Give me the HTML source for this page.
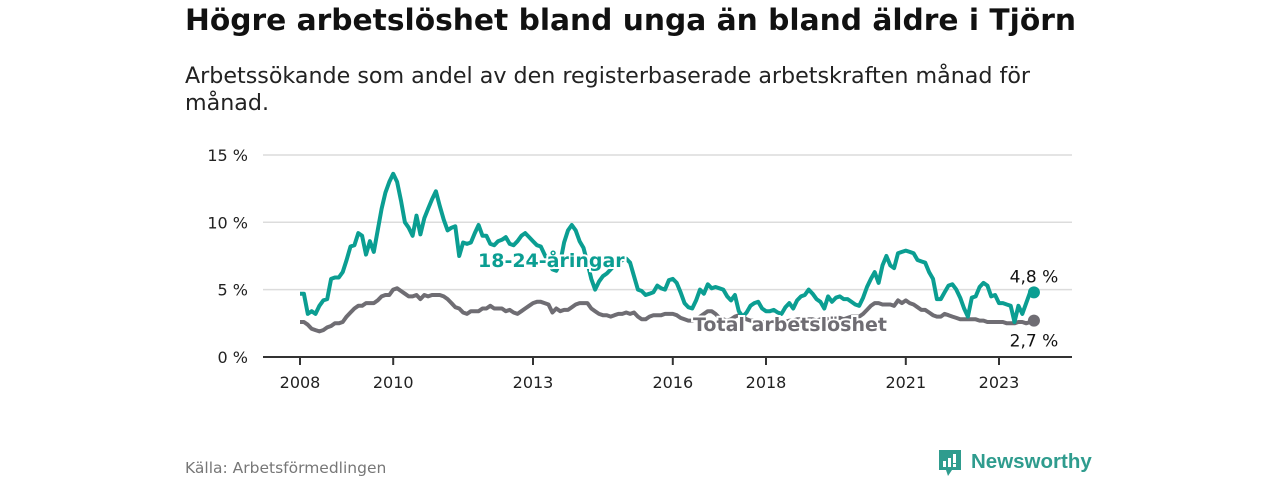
<!DOCTYPE html>
<html><head><meta charset="utf-8">
<style>
body{margin:0;width:1280px;height:480px;background:#fff;font-family:"DejaVu Sans","Liberation Sans",sans-serif;overflow:hidden;position:relative}
h1{position:absolute;left:185px;top:3px;margin:0;font-size:29.7px;font-weight:bold;color:#111;white-space:nowrap}
.sub{position:absolute;left:185px;top:63px;margin:0;font-size:22.2px;line-height:27px;color:#222;width:1000px}
.src{position:absolute;left:185px;top:459px;font-size:15.5px;color:#777}
</style></head><body>
<h1>Högre arbetslöshet bland unga än bland äldre i Tjörn</h1>
<p class="sub">Arbetssökande som andel av den registerbaserade arbetskraften månad för<br>månad.</p>
<svg id="chart" width="1280" height="480" style="position:absolute;left:0;top:0" font-family="DejaVu Sans, Liberation Sans, sans-serif"></svg>
<div class="src">Källa: Arbetsförmedlingen</div>
<div style="position:absolute;left:937px;top:449px;height:30px">
<svg width="26" height="30" style="position:absolute;left:0;top:0"><path d="M2 1h22v20h-9l-4 6-2-6H2z" fill="#2f9c8e"/><rect x="6" y="12" width="3" height="6" fill="#fff"/><rect x="11" y="9" width="3" height="9" fill="#fff"/><rect x="16" y="5" width="3" height="9" fill="#fff"/><rect x="16" y="15" width="3" height="3" fill="#fff"/></svg>
<span style="position:absolute;left:34px;top:1px;font-family:'Liberation Sans',sans-serif;font-size:20.5px;color:#2f9c8e;font-weight:bold;white-space:nowrap">Newsworthy</span></div>
<script>
const yTicks=[0,5,10,15];
const yearLabels=[2008,2010,2013,2016,2018,2021,2023];
const startYear=2008;
const youth=[4.7,4.7,3.2,3.4,3.2,3.8,4.2,4.3,5.8,5.9,5.9,6.3,
7.2,8.2,8.3,9.2,9.0,7.6,8.6,7.8,9.4,11.0,12.2,13.0,
13.6,13.0,11.6,10.0,9.6,9.0,10.5,9.1,10.3,11.0,11.7,12.3,
11.2,10.2,9.4,9.6,9.7,7.5,8.5,8.4,8.5,9.2,9.8,9.0,
9.0,8.4,8.3,8.6,8.7,8.9,8.4,8.3,8.6,9.0,9.2,8.9,
8.6,8.3,8.2,7.6,7.0,6.5,6.4,7.0,8.5,9.4,9.8,9.4,
8.6,8.1,7.0,5.8,5.0,5.6,6.0,6.2,6.5,6.8,7.0,7.2,
7.3,7.0,6.0,5.0,4.9,4.6,4.7,4.8,5.3,5.1,5.0,5.7,
5.8,5.5,4.8,4.0,3.7,3.6,4.2,5.0,4.7,5.4,5.1,5.2,
5.1,5.0,4.5,4.2,4.6,3.4,3.0,3.3,3.8,4.0,4.1,3.6,
3.4,3.4,3.5,3.3,3.2,3.7,4.0,3.6,4.2,4.5,4.6,5.0,
4.7,4.3,4.1,3.6,4.5,4.1,4.4,4.5,4.3,4.3,4.1,3.9,
3.8,4.4,5.2,5.8,6.3,5.5,6.8,7.5,6.8,6.6,7.7,7.8,
7.9,7.8,7.7,7.2,7.1,7.0,6.3,5.8,4.3,4.3,4.8,5.3,
5.4,5.0,4.4,3.6,3.0,4.4,4.5,5.2,5.5,5.3,4.5,4.6,
4.0,4.0,3.9,3.8,2.6,3.8,3.2,4.0,4.8,4.8];
const total=[2.6,2.6,2.4,2.1,2.0,1.9,2.0,2.2,2.3,2.5,2.5,2.6,
3.0,3.3,3.6,3.8,3.8,4.0,4.0,4.0,4.2,4.5,4.6,4.6,
5.0,5.1,4.9,4.7,4.5,4.5,4.6,4.3,4.6,4.5,4.6,4.6,
4.6,4.5,4.3,4.0,3.7,3.6,3.3,3.2,3.4,3.4,3.4,3.6,
3.6,3.8,3.6,3.6,3.6,3.4,3.5,3.3,3.2,3.4,3.6,3.8,
4.0,4.1,4.1,4.0,3.9,3.3,3.6,3.4,3.5,3.5,3.7,3.9,
4.0,4.0,4.0,3.6,3.4,3.2,3.1,3.1,3.0,3.1,3.2,3.2,
3.3,3.2,3.3,3.0,2.8,2.8,3.0,3.1,3.1,3.1,3.2,3.2,
3.2,3.1,2.9,2.8,2.7,2.7,2.8,3.0,3.2,3.4,3.4,3.2,
2.9,2.8,2.7,2.8,3.0,3.1,3.0,2.8,2.7,2.7,2.7,2.6,
2.6,2.7,2.7,2.8,2.7,2.6,2.7,2.7,2.8,2.8,2.7,2.8,
2.8,2.7,2.8,2.9,2.8,2.8,2.9,2.9,2.8,2.9,3.0,3.0,
3.0,3.2,3.5,3.8,4.0,4.0,3.9,3.9,3.9,3.8,4.2,4.0,
4.2,4.0,3.9,3.7,3.5,3.5,3.3,3.1,3.0,3.0,3.2,3.1,
3.0,2.9,2.8,2.8,2.8,2.8,2.8,2.7,2.7,2.6,2.6,2.6,
2.6,2.6,2.5,2.5,2.5,2.6,2.6,2.5,2.6,2.7];
const NS="http://www.w3.org/2000/svg";
const svg=document.getElementById('chart');
const X0=300,PXY=46.6,Y0=357,PXP=13.47;
function xm(i){return X0+i*PXY/12;}
function xy(year){return X0+(year-startYear)*PXY;}
function yv(v){return Y0-v*PXP;}
function mk(t,a,txt){const e=document.createElementNS(NS,t);for(const k in a)e.setAttribute(k,a[k]);if(txt!==undefined)e.textContent=txt;svg.appendChild(e);return e;}
yTicks.forEach(v=>{
 if(v>0){const g=mk('line',{x1:263,x2:1072,y1:yv(v),y2:yv(v),stroke:'#dcdcdc','stroke-width':1.5});
 
 }
 const t=mk('text',{x:248,y:yv(v)+6,'text-anchor':'end','font-size':16,fill:'#222'},v+' %');
 
 
});
const ax=mk('line',{x1:263,x2:1072,y1:Y0,y2:Y0,stroke:'#333','stroke-width':2});


yearLabels.forEach(yr=>{
 const x=xy(yr);
 const tk=mk('line',{x1:x,x2:x,y1:Y0,y2:Y0+8,stroke:'#333','stroke-width':2});
 
 
 const t=mk('text',{x:x,y:388,'text-anchor':'middle','font-size':16,fill:'#222'},yr);
 
 
});
function line(arr,col,name){
 const d=arr.map((v,i)=>(i?'L':'M')+xm(i).toFixed(1)+' '+yv(v).toFixed(1)).join(' ');
 const p=mk('path',{d:d,fill:'none',stroke:col,'stroke-width':4,'stroke-linejoin':'round'});
 
 
 const n=arr.length-1;
 const c=mk('circle',{cx:xm(n),cy:yv(arr[n]),r:6,fill:col});
 
 
}
line(total,'#6f6d73','total-line');
line(youth,'#0b9e92','youth-line');
const halo={stroke:'#fff','stroke-width':4,'paint-order':'stroke','font-weight':'bold','font-size':19};
let l1=mk('text',Object.assign({x:478,y:267,fill:'#0b9e92'},halo),'18-24-åringar');


let l2=mk('text',Object.assign({x:693,y:331,fill:'#6f6d73'},halo),'Total arbetslöshet');


const n=youth.length-1;
let e1=mk('text',{x:xm(n),y:yv(youth[n])-10,'text-anchor':'middle','font-size':17,fill:'#111',stroke:'#fff','stroke-width':3,'paint-order':'stroke'},youth[n].toFixed(1).replace('.',',')+' %');


const m=total.length-1;
let e2=mk('text',{x:xm(m),y:yv(total[m])+26,'text-anchor':'middle','font-size':17,fill:'#111',stroke:'#fff','stroke-width':3,'paint-order':'stroke'},total[m].toFixed(1).replace('.',',')+' %');


</script>
</body></html>
